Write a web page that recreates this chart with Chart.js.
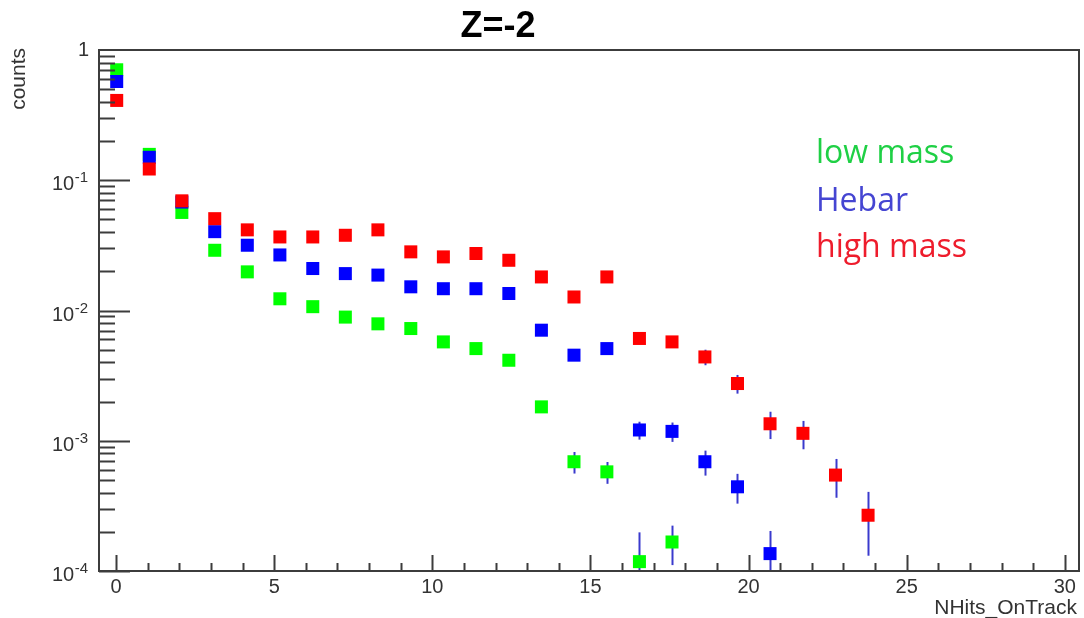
<!DOCTYPE html>
<html>
<head>
<meta charset="utf-8">
<script src="https://cdn.jsdelivr.net/npm/chart.js@4.4.1/dist/chart.umd.min.js"></script>
<style>
  html, body { margin: 0; padding: 0; background: #fff; }
  #wrap { width: 1084px; height: 618px; position: relative; }
</style>
</head>
<body>
<div id="wrap"><canvas id="hitsChart"></canvas></div>
<script>
// bin centres (30 bins from -0.5 to 30.5)
const bins = [0.02, 1.05, 2.08, 3.12, 4.15, 5.18, 6.22, 7.25, 8.28, 9.32, 10.35, 11.38,
              12.42, 13.45, 14.48, 15.52, 16.55, 17.58, 18.62, 19.65, 20.68, 21.72, 22.75, 23.78];

const lowMass = [0.705, 0.158, 0.0566, 0.029, 0.0198, 0.0123, 0.0107, 0.0089, 0.0079, 0.00727,
                 0.00574, 0.0051, 0.00415, 0.00182, 0.00069, 0.000577, 0.000118, 0.000167,
                 null, null, null, null, null, null];
const hebar = [0.573, 0.150, 0.068, 0.0403, 0.0317, 0.0267, 0.021, 0.0192, 0.0187, 0.0152,
               0.0147, 0.0147, 0.0135, 0.00706, 0.00454, 0.0051, 0.00121, 0.00118,
               0.00069, 0.000443, 0.000136, null, null, null];
const highMass = [0.41, 0.122, 0.0695, 0.0507, 0.0416, 0.0367, 0.0367, 0.0378, 0.0416, 0.0282,
                  0.0258, 0.0274, 0.0243, 0.0181, 0.0127, 0.0181, 0.0061, 0.00574,
                  0.0044, 0.00275, 0.00135, 0.00114, 0.000545, 0.000268];

// errors (+/-) per bin, 0 where hidden behind the marker
const lowMassErr = [0, 0, 0, 0, 0, 0, 0, 0, 0, 0, 0, 0, 0, 0.00015, 0.00013, 0.00011, 0.00008, 0.000056,
                    0, 0, 0, 0, 0, 0];
const hebarErr = [0, 0, 0, 0, 0, 0, 0, 0, 0, 0, 0, 0, 0, 0.0003, 0.0003, 0.0003, 0.00019, 0.0002,
                  0.00015, 0.000114, 0.000067, 0, 0, 0];
const highMassErr = [0, 0, 0, 0, 0, 0, 0, 0, 0, 0, 0, 0, 0, 0.0005, 0.0005, 0.0005, 0.0004, 0.0004,
                     0.0006, 0.00045, 0.00032, 0.00028, 0.00018, 0.000137];

const seriesNames = ['low mass', 'Hebar', 'high mass'];
const xTicks = [0, 5, 10, 15, 20, 25, 30];
const yTicks = [1e-4, 1e-3, 1e-2, 1e-1, 1];

const AXIS_FONT = '"Liberation Sans", Arial, sans-serif';
const FRAME_COLOR = '#3c3c3c';
const ERR_COLOR = '#3a3acd';

function toPoints(vals, errs) {
    const pts = [];
    vals.forEach((v, i) => {
        if (v !== null) pts.push({ x: bins[i], y: v, err: errs[i] });
    });
    return pts;
}

function makeSet(label, vals, errs, color, order) {
    return {
        label: label,
        data: toPoints(vals, errs),
        showLine: false,
        pointStyle: 'rect',
        pointRadius: 9.2,
        pointHoverRadius: 9.2,
        pointBorderWidth: 0,
        pointBackgroundColor: color,
        backgroundColor: color,
        borderColor: color,
        order: order
    };
}

const errorBars = {
    id: 'errorBars',
    beforeDatasetsDraw(chart) {
        const ctx = chart.ctx;
        const area = chart.chartArea;
        const xs = chart.scales.x, ys = chart.scales.y;
        ctx.save();
        ctx.beginPath();
        ctx.rect(area.left, area.top, area.right - area.left, area.bottom - area.top);
        ctx.clip();
        ctx.strokeStyle = ERR_COLOR;
        ctx.lineWidth = 2;
        chart.data.datasets.forEach(ds => {
            ds.data.forEach(p => {
                if (!p.err) return;
                const px = Math.round(xs.getPixelForValue(p.x)) + 0.5;
                const lo = p.y - p.err;
                const yLo = lo > 0 ? ys.getPixelForValue(lo) : area.bottom + 5;
                const yHi = ys.getPixelForValue(p.y + p.err);
                ctx.beginPath();
                ctx.moveTo(px, Math.min(yLo, area.bottom + 5));
                ctx.lineTo(px, yHi);
                ctx.stroke();
            });
        });
        ctx.restore();
    }
};

const frameAndText = {
    id: 'frameAndText',
    afterDraw(chart) {
        const ctx = chart.ctx;
        const a = chart.chartArea;
        const xs = chart.scales.x, ys = chart.scales.y;
        ctx.save();

        // frame
        ctx.strokeStyle = FRAME_COLOR;
        ctx.lineWidth = 2;
        ctx.strokeRect(a.left, a.top, a.right - a.left, a.bottom - a.top);

        // x ticks (inside)
        ctx.beginPath();
        for (let v = 0; v <= 30; v++) {
            const px = Math.round(xs.getPixelForValue(v)) + 0.5;
            const len = xTicks.includes(v) ? 16 : 8;
            ctx.moveTo(px, a.bottom);
            ctx.lineTo(px, a.bottom - len);
        }
        // y ticks (inside)
        for (let d = -4; d < 0; d++) {
            for (let k = 1; k <= 9; k++) {
                const py = Math.round(ys.getPixelForValue(k * Math.pow(10, d))) + 0.5;
                const len = k === 1 ? 31 : 16;
                ctx.moveTo(a.left, py);
                ctx.lineTo(a.left + len, py);
            }
        }
        ctx.stroke();

        // x tick labels
        ctx.fillStyle = '#333';
        ctx.font = '20px ' + AXIS_FONT;
        ctx.textAlign = 'center';
        ctx.textBaseline = 'alphabetic';
        xTicks.forEach(v => {
            ctx.fillText(String(v), xs.getPixelForValue(v), 593);
        });

        // y tick labels 10^n
        yTicks.forEach(v => {
            const py = ys.getPixelForValue(v);
            const e = Math.round(Math.log10(v));
            if (e === 0) {
                ctx.font = '20px ' + AXIS_FONT;
                ctx.textAlign = 'right';
                ctx.textBaseline = 'middle';
                ctx.fillText('1', 89, py);
                return;
            }
            ctx.textBaseline = 'alphabetic';
            ctx.textAlign = 'right';
            ctx.font = '15px ' + AXIS_FONT;
            const expStr = String(e);
            const we = ctx.measureText(expStr).width;
            ctx.fillText(expStr, 88, py + 2);
            ctx.font = '20px ' + AXIS_FONT;
            ctx.fillText('10', 88 - we - 0.5, py + 10);
        });

        // axis titles
        ctx.font = '21px ' + AXIS_FONT;
        ctx.textAlign = 'right';
        ctx.textBaseline = 'alphabetic';
        ctx.fillText('NHits_OnTrack', 1077, 614);

        ctx.save();
        ctx.translate(25, 48);
        ctx.rotate(-Math.PI / 2);
        ctx.textAlign = 'right';
        ctx.fillText('counts', 0, 0);
        ctx.restore();

        // title
        ctx.fillStyle = '#000';
        ctx.font = 'bold 36px ' + AXIS_FONT;
        ctx.textAlign = 'center';
        ctx.fillText('Z=-2', 498, 37);

        // legend text
        const legendColors = ['#1fd045', '#4545d2', '#ee1c2c'];
        const legendY = [163, 211, 257];
        ctx.font = '32px "Open Sans", sans-serif';
        ctx.textAlign = 'left';
        seriesNames.forEach((name, i) => {
            ctx.fillStyle = legendColors[i];
            ctx.fillText(name, 816, legendY[i]);
        });

        ctx.restore();
    }
};

const chart = new Chart(document.getElementById('hitsChart'), {
    type: 'scatter',
    data: {
        datasets: [
            makeSet(seriesNames[0], lowMass, lowMassErr, '#00ff00', 3),
            makeSet(seriesNames[1], hebar, hebarErr, '#0000ff', 2),
            makeSet(seriesNames[2], highMass, highMassErr, '#ff0000', 1)
        ]
    },
    options: {
        responsive: true,
        maintainAspectRatio: false,
        animation: false,
        layout: { autoPadding: false, padding: { left: 0, right: 5, top: 50, bottom: 0 } },
        plugins: {
            legend: { display: false },
            tooltip: { enabled: false },
            title: { display: false }
        },
        scales: {
            x: {
                type: 'linear',
                min: -0.54,
                max: 30.45,
                grid: { display: false },
                border: { display: false },
                ticks: { display: false },
                afterFit(s) { s.height = 47; }
            },
            y: {
                type: 'logarithmic',
                min: 1e-4,
                max: 1,
                grid: { display: false },
                border: { display: false },
                ticks: { display: false },
                afterFit(s) { s.width = 99; }
            }
        }
    },
    plugins: [errorBars, frameAndText]
});
</script>
</body>
</html>
